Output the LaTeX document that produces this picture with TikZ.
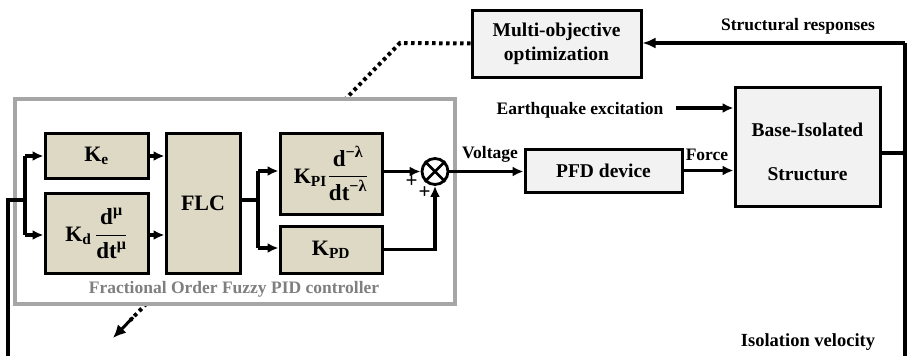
\documentclass[tikz,border=0pt]{standalone}
\usepackage{fontspec}
\usepackage{amsmath}
\setmainfont{Liberation Serif}
\usetikzlibrary{arrows.meta,calc}
\definecolor{beige}{HTML}{DDD9C4}
\definecolor{lgray}{HTML}{F2F2F2}
\definecolor{ctrlgray}{HTML}{A6A6A6}
\definecolor{txtgray}{HTML}{7F7F7F}
\newcommand{\myfrac}[2]{{\fontsize{23}{26}\selectfont$\dfrac{\vphantom{d}\text{\bfseries #1}}{\text{\bfseries #2}}$}}
\begin{document}
\begin{tikzpicture}[x=1pt,y=-1pt,
  wire/.style={line width=3.3pt, draw=black},
  arr/.style={wire, -{Latex[length=11pt,width=10pt]}},
  tanbox/.style={draw=black, line width=3pt, fill=beige, inner sep=0pt, font=\bfseries\fontsize{22}{24}\selectfont, align=center},
  graybox/.style={draw=black, line width=3pt, fill=lgray, inner sep=0pt, font=\bfseries\fontsize{19.5}{22}\selectfont, align=center},
  lbl/.style={font=\bfseries\fontsize{17.5}{20}\selectfont, inner sep=0pt},
  plus/.style={font=\bfseries\fontsize{21}{22}\selectfont, inner sep=0pt},
  dotline/.style={line width=4pt, dash pattern=on 3.5pt off 3.5pt}
]
\useasboundingbox (0,0) rectangle (907,356);

% optimization block and dotted tuning arrow (behind controller)
\node[graybox, minimum width=169, minimum height=67] (mo) at (556.5,43.5) {Multi-objective\\[2pt]optimization};
\coordinate (bend) at (400,43);
\coordinate (tip) at (113,338);
\draw[dotline] (mo.west) -- (bend) -- ($(tip)!0.06!(bend)$);
\draw[line width=3pt, -{Latex[length=13pt,width=12pt]}] ($(tip)!0.07!(bend)$) -- (tip);

% controller frame
\node[draw=ctrlgray, line width=4pt, fill=white, minimum width=440, minimum height=205, inner sep=0] (ctrl) at (235,201.5) {};
\node[font=\bfseries\fontsize{17.5}{20}\selectfont, text=txtgray, inner sep=0] (ctrllbl) at (234,289) {Fractional Order Fuzzy PID controller};

% controller blocks
\node[tanbox, minimum width=103, minimum height=45] (ke) at (96.5,155.5) {K\textsubscript{e}};
\node[tanbox, minimum width=103, minimum height=80] (kd) at (96.5,233) {K\textsubscript{d}\,\myfrac{d$^{\text{\bfseries μ}}$}{dt$^{\text{\bfseries μ}}$}};
\node[tanbox, minimum width=74, minimum height=140] (flc) at (203,203) {FLC};
\node[tanbox, minimum width=102, minimum height=81] (kpi) at (331,173.5) {K\textsubscript{PI}\kern1pt\myfrac{d$^{\text{\bfseries −λ}}$}{dt$^{\text{\bfseries −λ}}$}};
\node[tanbox, minimum width=102, minimum height=47] (kpd) at (331,249.5) {K\textsubscript{PD}};
\node[draw=black, line width=2.8pt, fill=white, circle, minimum size=26, inner sep=0] (sum) at (435,171.5) {};
\draw[line width=2.6pt] (sum.north west) -- (sum.south east) (sum.north east) -- (sum.south west);
\node[plus] (p1) at (411.5,182) {+};
\node[plus] (p2) at (424.5,192.5) {+};

% plant side
\node[graybox, minimum width=157, minimum height=43] (pfd) at (603.5,170.5) {PFD device};
\node[graybox, minimum width=145, minimum height=119] (bis) at (807.5,146.5) {};
\node[graybox, draw=none, fill=none] (bistxt) at (807.5,152) {Base-Isolated\\[22pt]Structure};
\node[lbl] (eq) at (580,110) {Earthquake excitation};
\node[lbl] (volt) at (490,154) {Voltage};
\node[lbl] (force) at (707,155) {Force};
\node[lbl] (sr) at (798,26) {Structural responses};
\node[lbl, font=\bfseries\fontsize{18.5}{20}\selectfont] (iv) at (808,342) {Isolation velocity};

% input branching
\coordinate (inb) at (8,356);
\coordinate (inc) at (8,200);
\coordinate (br1) at (25,200);
\draw[wire] (inb) -- (inc) -- (br1);
\draw[wire] (25,156) -- (25,235);
\draw[arr] (25,156) -- (ke.west |- 0,156);
\draw[arr] (25,235) -- (kd.west |- 0,235);
\draw[arr] (ke.east |- 0,156) -- (flc.west |- 0,156);
\draw[arr] (kd.east |- 0,235) -- (flc.west |- 0,235);

% FLC branching
\draw[wire] (flc.east |- 0,200) -- (258,200);
\draw[wire] (258,171) -- (258,248);
\draw[arr] (258,171) -- (kpi.west |- 0,171);
\draw[arr] (258,248) -- (kpd.west |- 0,248);
\draw[arr] (kpi.east |- sum.west) -- (sum.west);
\draw[arr] (kpd.east) -| (sum.south);

% forward path
\draw[arr] (sum.east) -- (pfd.west |- sum.east);
\draw[arr] (pfd.east) -- (bis.west |- pfd.east);
\draw[arr] (eq.east) ++(12,-2) coordinate (eqs) -- (bis.west |- eqs);

% feedback
\coordinate (jn) at (905,153);
\coordinate (rt) at (905,43);
\coordinate (rb) at (905,356);
\draw[wire] (bis.east |- jn) -- (jn);
\fill (jn) circle (3.2pt);
\draw[wire] (rb) -- (rt);
\draw[wire, -{Latex[length=13pt,width=11pt]}] (rt) -- (mo.east |- rt);
\end{tikzpicture}
\end{document}
